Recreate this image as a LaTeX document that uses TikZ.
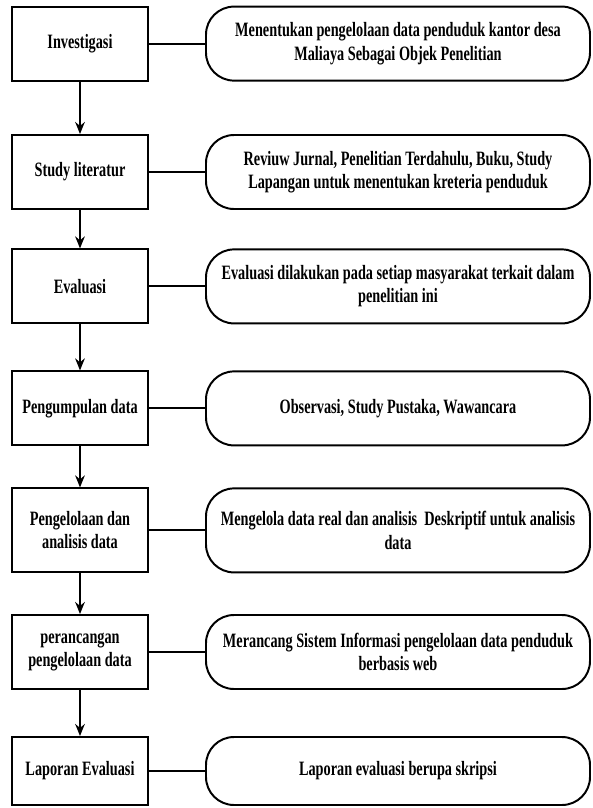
\documentclass[tikz,border=0pt]{standalone}
\usepackage{fontspec}
\newfontfamily\flowfont{Liberation Serif}[FakeStretch=0.7]
\usetikzlibrary{arrows.meta}
\begin{document}
\begin{tikzpicture}[font=\flowfont\bfseries\fontsize{14.5}{16.5}\selectfont, line width=1.4pt, line join=miter,
        stepbox/.style={draw, fill=white, minimum width=3.4cm, minimum height=1.85cm, align=center, inner sep=2pt},
        descbox/.style={draw, fill=white, rounded corners=0.7cm, minimum width=9.6cm, minimum height=1.85cm, align=center},
        flow/.style={-{Stealth[length=3mm, width=2.4mm]}}]
        \useasboundingbox (0, 0) rectangle (14.8, -20.2);
        % Step 1
        \node[stepbox] (inv) at (2, -1.09) {Investigasi};
        \node[descbox] (invdesc) at (9.95, -1.09) {Menentukan pengelolaan data penduduk kantor desa\\Maliaya Sebagai Objek Penelitian};
        \draw (inv) -- (invdesc);

        % Step 2
        \node[stepbox] (lit) at (2, -4.3) {Study literatur};
        \node[descbox] (litdesc) at (9.95, -4.3) {Reviuw Jurnal, Penelitian Terdahulu, Buku, Study\\Lapangan untuk menentukan kreteria penduduk};
        \draw (lit) -- (litdesc);
        \draw[flow] (inv) -- (lit);

        % Step 3
        \node[stepbox] (eval) at (2, -7.16) {Evaluasi};
        \node[descbox] (evaldesc) at (9.95, -7.16) {Evaluasi dilakukan pada setiap masyarakat terkait dalam\\penelitian ini};
        \draw (eval) -- (evaldesc);
        \draw[flow] (lit) -- (eval);

        % Step 4
        \node[stepbox] (kumpul) at (2, -10.21) {Pengumpulan data};
        \node[descbox] (kumpuldesc) at (9.95, -10.21) {Observasi, Study Pustaka, Wawancara};
        \draw (kumpul) -- (kumpuldesc);
        \draw[flow] (eval) -- (kumpul);

        % Step 5
        \node[stepbox, minimum height=2.1cm] (olah) at (2, -13.26) {Pengelolaan dan\\analisis data};
        \node[descbox, minimum height=2.1cm] (olahdesc) at (9.95, -13.26) {Mengelola data real dan analisis\ \ Deskriptif untuk analisis\\data};
        \draw (olah) -- (olahdesc);
        \draw[flow] (kumpul) -- (olah);

        % Step 6
        \node[stepbox] (rancang) at (2, -16.3) {perancangan\\pengelolaan data};
        \node[descbox] (rancangdesc) at (9.95, -16.3) {Merancang Sistem Informasi pengelolaan data penduduk\\berbasis web};
        \draw (rancang) -- (rancangdesc);
        \draw[flow] (olah) -- (rancang);

        % Step 7
        \node[stepbox, minimum height=1.7cm] (lapor) at (2, -19.275) {Laporan Evaluasi};
        \node[descbox, minimum height=1.7cm] (lapordesc) at (9.95, -19.275) {Laporan evaluasi berupa skripsi};
        \draw (lapor) -- (lapordesc);
        \draw[flow] (rancang) -- (lapor);
    \end{tikzpicture}
\end{document}
